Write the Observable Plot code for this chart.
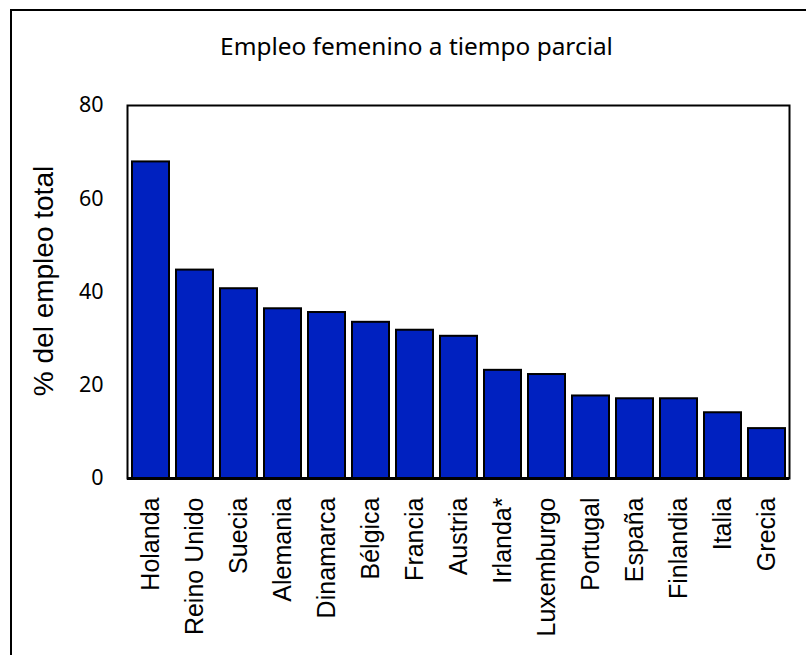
<!DOCTYPE html>
<html>
<head>
<meta charset="utf-8">
<script src="https://cdn.jsdelivr.net/npm/d3@7"></script>
<script src="https://cdn.jsdelivr.net/npm/@observablehq/plot@0.6"></script>
<style>
  html, body { margin: 0; padding: 0; background: #fff; }
  #wrap { position: relative; width: 806px; height: 655px; overflow: hidden; }
  #border { position: absolute; left: 10px; top: 9px; width: 900px; height: 900px;
            border-left: 2px solid #000; border-top: 2px solid #000; box-sizing: border-box; }
  #chart { position: absolute; left: 0; top: 0; }
</style>
</head>
<body>
<div id="wrap"><div id="chart"></div><div id="border"></div></div>
<script>
const title = "Empleo femenino a tiempo parcial";
const yLabel = "% del empleo total";
const countries = ["Holanda","Reino Unido","Suecia","Alemania","Dinamarca","Bélgica","Francia","Austria","Irlanda*","Luxemburgo","Portugal","España","Finlandia","Italia","Grecia"];
const values = [67.9, 44.7, 40.7, 36.4, 35.6, 33.5, 31.8, 30.5, 23.2, 22.3, 17.7, 17.1, 17.1, 14.1, 10.7];
const yTicks = [0, 20, 40, 60, 80];

const data = countries.map((c, i) => ({country: c, value: values[i]}));

const chart = Plot.plot({
  width: 806,
  height: 655,
  marginLeft: 127,
  marginRight: 17,
  marginTop: 105,
  marginBottom: 177,
  style: {background: "transparent"},
  x: {domain: countries, paddingInner: 0.16, paddingOuter: 0.08, label: null},
  y: {domain: [0, 80], ticks: yTicks, label: null},
  marks: [
    Plot.barY(data, {x: "country", y: "value", fill: "#0021c0", stroke: "#000", strokeWidth: 2}),
    Plot.frame({stroke: "#000", strokeWidth: 2}),
    Plot.ruleY([0], {stroke: "#000", strokeWidth: 3}),
    Plot.axisY({ticks: yTicks, tickSize: 0, tickPadding: 24, fontSize: 21.5, fontFamily: "Noto Sans", label: null, fill: "#000"}),
    Plot.axisX({tickSize: 0, tickPadding: 19, tickRotate: -90, fontSize: 25, fontFamily: "Liberation Sans, Arial", label: null, fill: "#000"}),
    Plot.text([title], {frameAnchor: "top", dx: -42, dy: -58, fontSize: 24.4, fontFamily: "Noto Sans", fill: "#000", lineAnchor: "middle"}),
    Plot.text([yLabel], {frameAnchor: "left", rotate: -90, dx: -83, dy: -11, fontSize: 28, fontFamily: "Liberation Sans, Arial", fill: "#000", lineAnchor: "middle", textAnchor: "middle"})
  ]
});
document.getElementById("chart").appendChild(chart);
</script>
</body>
</html>
